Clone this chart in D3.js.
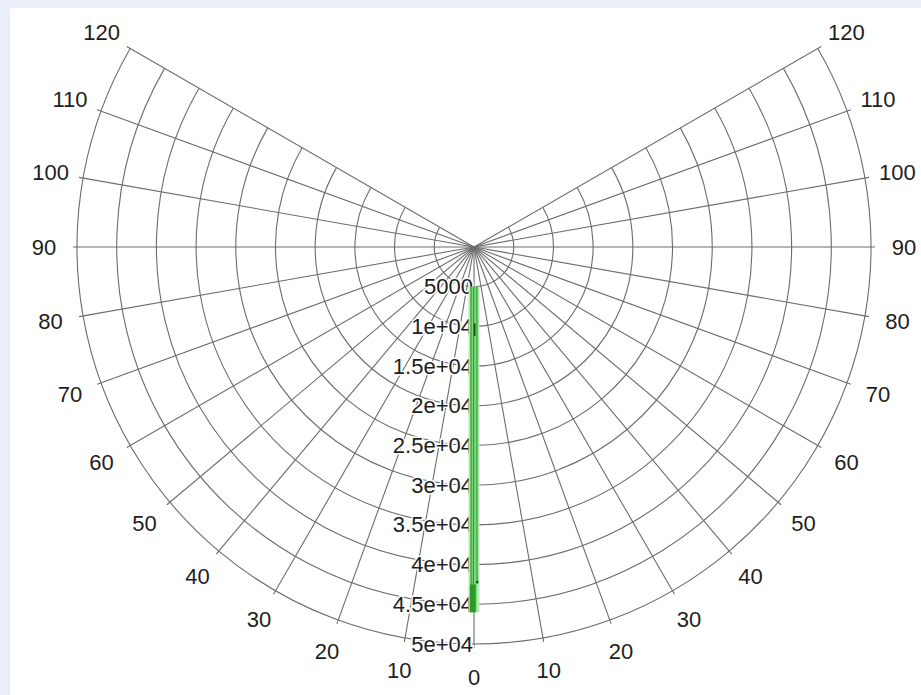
<!DOCTYPE html>
<html lang="en">
<head>
  <meta charset="UTF-8" />
  <title>Polar plot</title>
  <script src="https://d3js.org/d3.v7.min.js"></script>
  <style>
    body {
      margin: 0;
      padding: 0;
      background-color: #e9eef8;
    }
    svg {
      display: block;
    }
    .grid line, .grid path {
      stroke: #6c6c6c;
      stroke-width: 1.1px;
      fill: none;
    }
    text {
      font-family: "Liberation Sans", Arial, sans-serif;
      font-size: 22px;
      fill: #1e1e1e;
    }
    .rlabel {
      stroke: #fff;
      stroke-width: 3px;
      paint-order: stroke;
    }
  </style>
</head>
<body>
  <svg width="921" height="695"></svg>

  <script>
    // angle ticks, 0 at the bottom, negative to the left
    const angleTicks = [-120, -110, -100, -90, -80, -70, -60, -50, -40, -30, -20, -10, 0,
                        10, 20, 30, 40, 50, 60, 70, 80, 90, 100, 110, 120];
    const angleLabels = ["120", "110", "100", "90", "80", "70", "60", "50", "40", "30", "20", "10", "0",
                         "10", "20", "30", "40", "50", "60", "70", "80", "90", "100", "110", "120"];
    const radiusTicks = [5000, 10000, 15000, 20000, 25000, 30000, 35000, 40000, 45000, 50000];
    const radiusLabels = ["5000", "1e+04", "1.5e+04", "2e+04", "2.5e+04", "3e+04", "3.5e+04", "4e+04", "4.5e+04", "5e+04"];

    // traces near 0 degrees (angle in degrees, radius)
    const bandR = [5000, 46000];
    const bandA = [0, 0];
    const leftR = [5000, 10000, 20000, 30000, 40000, 46000];
    const leftA = [-4.3, -2.2, -1.1, -0.7, -0.55, -0.45];
    const midR = [5000, 10000, 20000, 30000, 40000, 46000];
    const midA = [-0.5, -0.3, -0.15, -0.1, -0.1, -0.1];
    const rightR = [5000, 10000, 20000, 30000, 40000, 42200];
    const rightA = [4.3, 2.2, 1.1, 0.72, 0.55, 0.55];
    const tailR = [42500, 46000];
    const tailA = [-0.2, -0.2];
    const markR = [9600, 11200];
    const markA = [0.4, 0.4];

    const svg = d3.select("svg");
    const cx = 474, cy = 247;

    svg.append("rect")
      .attr("x", 10).attr("y", 8)
      .attr("width", 911).attr("height", 687)
      .attr("fill", "#fff");

    const r = d3.scaleLinear().domain([0, 50000]).range([0, 397]);
    const outer = r(50000);
    const rad = d => d * Math.PI / 180;
    const px = (a, v) => cx + v * Math.sin(rad(a));
    const py = (a, v) => cy + v * Math.cos(rad(a));

    const g = svg.append("g").attr("class", "grid");

    // rings (arcs from -120 to 120 through the bottom)
    const arc = d3.arc()
      .startAngle(rad(180 - 120))
      .endAngle(rad(180 + 120));
    g.selectAll("path.ring")
      .data(radiusTicks)
      .enter().append("path")
      .attr("class", "ring")
      .attr("transform", `translate(${cx},${cy})`)
      .attr("d", d => arc({innerRadius: r(d), outerRadius: r(d)}));

    // spokes
    g.selectAll("line.spoke")
      .data(angleTicks)
      .enter().append("line")
      .attr("class", "spoke")
      .attr("x1", cx).attr("y1", cy)
      .attr("x2", d => px(d, outer + 4))
      .attr("y2", d => py(d, outer + 4));

    // angle labels
    svg.selectAll("text.alabel")
      .data(angleTicks)
      .enter().append("text")
      .attr("class", "alabel")
      .attr("x", d => px(d, outer + 33))
      .attr("y", d => py(d, outer + 33))
      .attr("text-anchor", "middle")
      .attr("dominant-baseline", "central")
      .text((d, i) => angleLabels[i]);

    // radius labels down the 0 spoke
    svg.selectAll("text.rlabel")
      .data(radiusTicks)
      .enter().append("text")
      .attr("class", "rlabel")
      .attr("x", cx - 1)
      .attr("y", d => cy + r(d))
      .attr("text-anchor", "end")
      .attr("dominant-baseline", "central")
      .text((d, i) => radiusLabels[i]);

    const line = d3.line()
      .x(d => px(d[0], r(d[1])))
      .y(d => py(d[0], r(d[1])));
    const pts = (A, R) => A.map((a, i) => [a, R[i]]);

    const traces = [
      {A: bandA, R: bandR, color: "#b2ecb2", w: 11},
      {A: bandA, R: bandR, color: "#7fd97f", w: 6},
      {A: leftA, R: leftR, color: "#2f9e2f", w: 1.2},
      {A: midA, R: midR, color: "#2f9e2f", w: 1.2},
      {A: rightA, R: rightR, color: "#2f9e2f", w: 1.2},
      {A: tailA, R: tailR, color: "#2b9a2b", w: 6},
      {A: markA, R: markR, color: "#1f5f1f", w: 2}
    ];

    svg.selectAll("path.trace")
      .data(traces)
      .enter().append("path")
      .attr("class", "trace")
      .attr("fill", "none")
      .attr("stroke", d => d.color)
      .attr("stroke-width", d => d.w)
      .attr("d", d => line(pts(d.A, d.R)));

    // dark end point of the right trace
    svg.append("circle")
      .attr("cx", px(rightA[rightA.length - 1], r(rightR[rightR.length - 1])))
      .attr("cy", py(rightA[rightA.length - 1], r(rightR[rightR.length - 1])))
      .attr("r", 1.5)
      .attr("fill", "#1f5f1f");
  </script>
</body>
</html>
